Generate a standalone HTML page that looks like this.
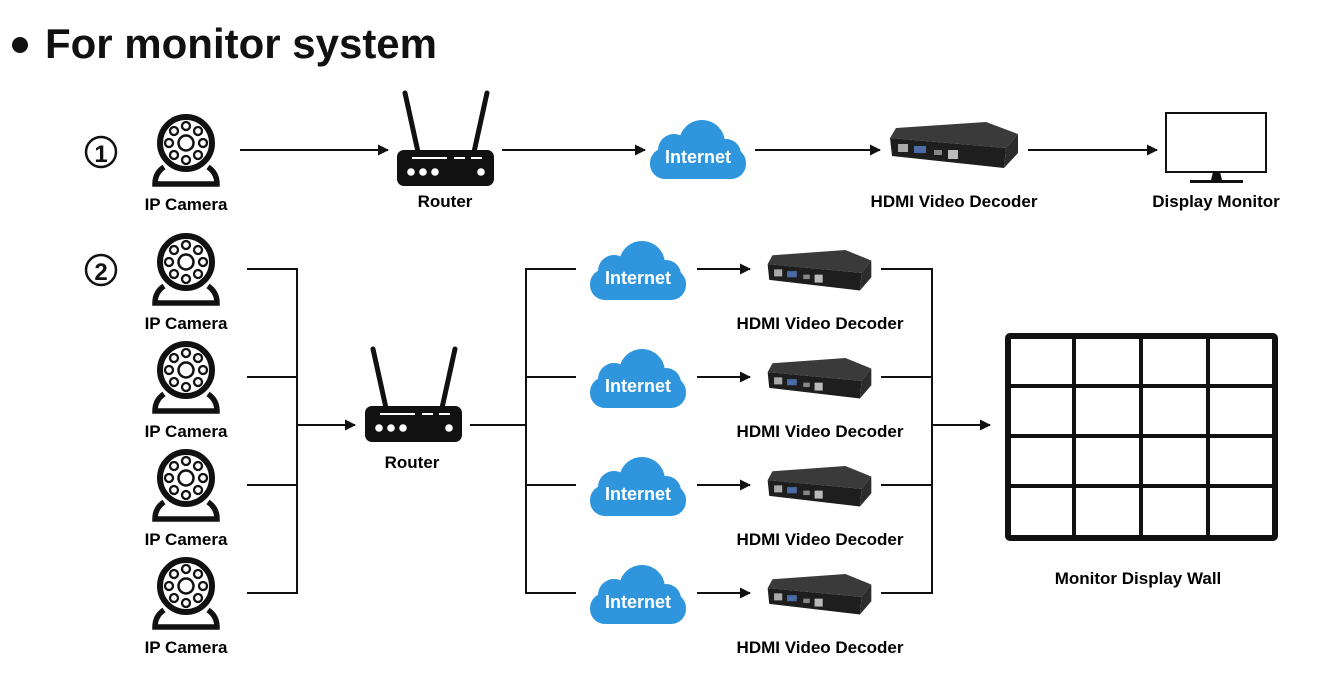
<!DOCTYPE html>
<html><head><meta charset="utf-8"><style>
html,body{margin:0;padding:0;background:#fff;}
svg{display:block;}
text{font-family:"Liberation Sans",Arial,sans-serif;font-weight:bold;}
</style></head><body>
<svg width="1335" height="693" viewBox="0 0 1335 693" xmlns="http://www.w3.org/2000/svg">
<defs>
<marker id="ah" markerWidth="11" markerHeight="11" refX="10" refY="5.5" orient="auto" markerUnits="userSpaceOnUse">
<path d="M0,0 L11,5.5 L0,11 Z" fill="#111"/></marker>
<g id="cam">
<circle cx="0" cy="0" r="26" fill="none" stroke="#111" stroke-width="6"/>
<circle cx="0" cy="0" r="7.5" fill="none" stroke="#111" stroke-width="2.5"/>
<circle cx="0" cy="-17" r="4" fill="none" stroke="#111" stroke-width="2.3"/>
<circle cx="12" cy="-12" r="4" fill="none" stroke="#111" stroke-width="2.3"/>
<circle cx="17" cy="0" r="4" fill="none" stroke="#111" stroke-width="2.3"/>
<circle cx="12" cy="12" r="4" fill="none" stroke="#111" stroke-width="2.3"/>
<circle cx="0" cy="17" r="4" fill="none" stroke="#111" stroke-width="2.3"/>
<circle cx="-12" cy="12" r="4" fill="none" stroke="#111" stroke-width="2.3"/>
<circle cx="-17" cy="0" r="4" fill="none" stroke="#111" stroke-width="2.3"/>
<circle cx="-12" cy="-12" r="4" fill="none" stroke="#111" stroke-width="2.3"/>
<path d="M-22,24 Q-31,30 -31,41 L31,41 Q31,30 22,24" fill="none" stroke="#111" stroke-width="5.5"/>
</g>
<g id="router">
<line x1="8" y1="-57" x2="21" y2="2" stroke="#111" stroke-width="5" stroke-linecap="round"/>
<line x1="90" y1="-57" x2="77" y2="2" stroke="#111" stroke-width="5" stroke-linecap="round"/>
<rect x="0" y="0" width="97" height="36" rx="7" fill="#111"/>
<line x1="15" y1="8" x2="50" y2="8" stroke="#fff" stroke-width="2"/>
<line x1="57" y1="8" x2="68" y2="8" stroke="#fff" stroke-width="2"/>
<line x1="74" y1="8" x2="85" y2="8" stroke="#fff" stroke-width="2"/>
<circle cx="14" cy="22" r="3.8" fill="#fff"/><circle cx="26" cy="22" r="3.8" fill="#fff"/><circle cx="38" cy="22" r="3.8" fill="#fff"/><circle cx="84" cy="22" r="3.8" fill="#fff"/>
</g>
<g id="cloud" fill="#2f96de">
<rect x="-48" y="-2" width="96" height="31" rx="15"/>
<circle cx="-24" cy="0" r="16"/>
<circle cx="4" cy="-7" r="23"/>
<circle cx="28" cy="4" r="15"/>
</g>
<g id="dec">
<polygon points="8,6 98,0 130,12 118,26 2,16" fill="#3a3a3a"/>
<polygon points="2,16 118,26 116,46 4,34" fill="#1e1e1e"/>
<polygon points="118,26 130,12 130,31 116,46" fill="#2c2c2c"/>
<rect x="10" y="22" width="10" height="8" fill="#aaa"/>
<rect x="26" y="24" width="12" height="7" fill="#4a6aa8"/>
<rect x="46" y="28" width="8" height="5" fill="#888"/>
<rect x="60" y="28" width="10" height="9" fill="#bbb"/>
</g>
</defs>

<circle cx="20" cy="45" r="8" fill="#111"/>
<text x="45" y="58" font-size="42" fill="#111" textLength="392" lengthAdjust="spacingAndGlyphs">For monitor system</text>

<g font-size="17">
<!-- Row 1 -->
<circle cx="101" cy="152" r="15" fill="none" stroke="#111" stroke-width="2.5"/>
<text x="101" y="162" font-size="24" text-anchor="middle" fill="#111">1</text>
<use href="#cam" x="186" y="143"/>
<text x="186" y="210" text-anchor="middle">IP Camera</text>
<line x1="240" y1="150" x2="388" y2="150" stroke="#111" stroke-width="2" marker-end="url(#ah)"/>
<use href="#router" x="397" y="150"/>
<text x="445" y="207" text-anchor="middle">Router</text>
<line x1="502" y1="150" x2="645" y2="150" stroke="#111" stroke-width="2" marker-end="url(#ah)"/>
<use href="#cloud" x="698" y="150"/>
<text x="698" y="163" font-size="18" text-anchor="middle" fill="#fff">Internet</text>
<line x1="755" y1="150" x2="880" y2="150" stroke="#111" stroke-width="2" marker-end="url(#ah)"/>
<use href="#dec" x="888" y="122"/>
<text x="954" y="207" text-anchor="middle">HDMI Video Decoder</text>
<line x1="1028" y1="150" x2="1157" y2="150" stroke="#111" stroke-width="2" marker-end="url(#ah)"/>
<rect x="1166" y="113" width="100" height="59" fill="none" stroke="#111" stroke-width="2"/>
<polygon points="1213,172 1220,172 1222,180 1211,180" fill="#111"/>
<rect x="1190" y="180" width="53" height="3" fill="#111"/>
<text x="1216" y="207" text-anchor="middle">Display Monitor</text>

<!-- Row 2 -->
<circle cx="101" cy="270" r="15" fill="none" stroke="#111" stroke-width="2.5"/>
<text x="101" y="280" font-size="24" text-anchor="middle" fill="#111">2</text>

<use href="#cam" x="186" y="262"/>
<text x="186" y="329" text-anchor="middle">IP Camera</text>
<use href="#cam" x="186" y="370"/>
<text x="186" y="437" text-anchor="middle">IP Camera</text>
<use href="#cam" x="186" y="478"/>
<text x="186" y="545" text-anchor="middle">IP Camera</text>
<use href="#cam" x="186" y="586"/>
<text x="186" y="653" text-anchor="middle">IP Camera</text>

<g stroke="#111" stroke-width="2" fill="none">
<path d="M247,269 H297 M247,377 H297 M247,485 H297 M247,593 H297 M297,268 V594"/>
<path d="M470,425 H526 M526,268 V594 M526,269 H576 M526,377 H576 M526,485 H576 M526,593 H576"/>
<path d="M881,269 H932 M881,377 H932 M881,485 H932 M881,593 H932 M932,268 V594"/>
</g>
<line x1="297" y1="425" x2="355" y2="425" stroke="#111" stroke-width="2" marker-end="url(#ah)"/>
<line x1="932" y1="425" x2="990" y2="425" stroke="#111" stroke-width="2" marker-end="url(#ah)"/>

<use href="#router" x="365" y="406"/>
<text x="412" y="468" text-anchor="middle">Router</text>

<use href="#cloud" x="638" y="271"/><text x="638" y="284" font-size="18" text-anchor="middle" fill="#fff">Internet</text>
<use href="#cloud" x="638" y="379"/><text x="638" y="392" font-size="18" text-anchor="middle" fill="#fff">Internet</text>
<use href="#cloud" x="638" y="487"/><text x="638" y="500" font-size="18" text-anchor="middle" fill="#fff">Internet</text>
<use href="#cloud" x="638" y="595"/><text x="638" y="608" font-size="18" text-anchor="middle" fill="#fff">Internet</text>

<line x1="697" y1="269" x2="750" y2="269" stroke="#111" stroke-width="2" marker-end="url(#ah)"/>
<line x1="697" y1="377" x2="750" y2="377" stroke="#111" stroke-width="2" marker-end="url(#ah)"/>
<line x1="697" y1="485" x2="750" y2="485" stroke="#111" stroke-width="2" marker-end="url(#ah)"/>
<line x1="697" y1="593" x2="750" y2="593" stroke="#111" stroke-width="2" marker-end="url(#ah)"/>

<g transform="translate(766,250) scale(0.81,0.88)"><use href="#dec"/></g>
<g transform="translate(766,358) scale(0.81,0.88)"><use href="#dec"/></g>
<g transform="translate(766,466) scale(0.81,0.88)"><use href="#dec"/></g>
<g transform="translate(766,574) scale(0.81,0.88)"><use href="#dec"/></g>
<text x="820" y="329" text-anchor="middle">HDMI Video Decoder</text>
<text x="820" y="437" text-anchor="middle">HDMI Video Decoder</text>
<text x="820" y="545" text-anchor="middle">HDMI Video Decoder</text>
<text x="820" y="653" text-anchor="middle">HDMI Video Decoder</text>

<rect x="1008" y="336" width="267" height="202" rx="2" fill="none" stroke="#111" stroke-width="6"/>
<g stroke="#111" stroke-width="4">
<line x1="1074" y1="336" x2="1074" y2="538"/>
<line x1="1141" y1="336" x2="1141" y2="538"/>
<line x1="1208" y1="336" x2="1208" y2="538"/>
<line x1="1008" y1="386" x2="1275" y2="386"/>
<line x1="1008" y1="436" x2="1275" y2="436"/>
<line x1="1008" y1="486" x2="1275" y2="486"/>
</g>
<text x="1138" y="584" text-anchor="middle">Monitor Display Wall</text>
</g>
</svg>
</body></html>
